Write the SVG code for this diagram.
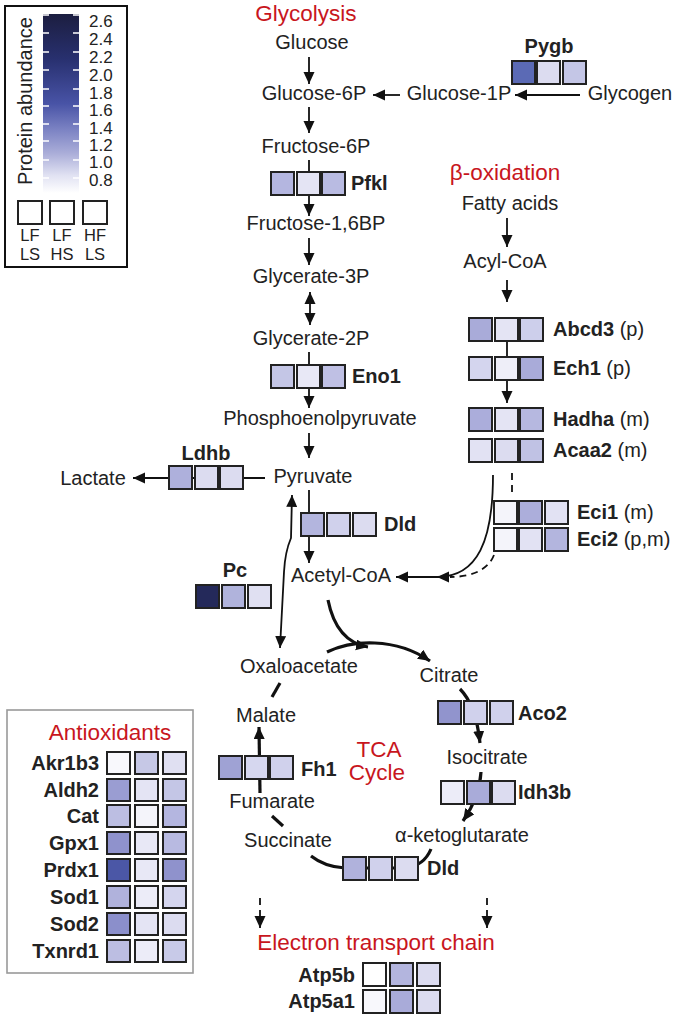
<svg xmlns="http://www.w3.org/2000/svg" width="676" height="1018" viewBox="0 0 676 1018">
<style>
text{font-family:"Liberation Sans",Arial,sans-serif;fill:#222}
.t{font-size:20px}
.b{font-size:20px;font-weight:bold}
.r{font-size:22.5px;fill:#c8161d}
.m{text-anchor:middle}
.e{text-anchor:end}
.n{font-size:17px}
.lg{font-size:16.5px}
.sq{stroke:#222;stroke-width:2}
.ln{fill:none;stroke:#111;stroke-width:1.8}
.tk{fill:none;stroke:#111;stroke-width:3.2}
.ds{stroke-dasharray:7 5}
</style>
<defs>
<marker id="ah" markerUnits="userSpaceOnUse" markerWidth="13" markerHeight="12" refX="12" refY="5.5" orient="auto"><path d="M0,0 L12,5.5 L0,11 z" fill="#111"/></marker>
<marker id="ahs" markerUnits="userSpaceOnUse" markerWidth="13" markerHeight="12" refX="0" refY="5.5" orient="auto"><path d="M12,0 L0,5.5 L12,11 z" fill="#111"/></marker>
<linearGradient id="grad" x1="0" y1="0" x2="0" y2="1">
<stop offset="0" stop-color="#1c1e40"/>
<stop offset="0.25" stop-color="#28306f"/>
<stop offset="0.5" stop-color="#4853a6"/>
<stop offset="0.65" stop-color="#7d84c4"/>
<stop offset="0.78" stop-color="#abaed9"/>
<stop offset="0.9" stop-color="#e0e1f2"/>
<stop offset="1" stop-color="#ffffff"/>
</linearGradient>
</defs>

<g id="legend">
<rect x="5" y="6" width="122" height="261" fill="#fff" stroke="#111" stroke-width="2"/>
<rect x="43" y="14" width="36" height="179" fill="url(#grad)"/>
<g stroke="#fff" stroke-width="1.5">
<path d="M43,15h6M73,15h6M43,33h6M73,33h6M43,52h6M73,52h6M43,70h6M73,70h6M43,89h6M73,89h6M43,106h6M73,106h6M43,124h6M73,124h6M43,141h6M73,141h6M43,160h6M73,160h6M43,178h6M73,178h6"/>
</g>
<text class="t m" transform="translate(32,101) rotate(-90)">Protein abundance</text>
<text class="n" x="89" y="27">2.6</text>
<text class="n" x="89" y="45">2.4</text>
<text class="n" x="89" y="63">2.2</text>
<text class="n" x="89" y="81">2.0</text>
<text class="n" x="89" y="99">1.8</text>
<text class="n" x="89" y="116">1.6</text>
<text class="n" x="89" y="134">1.4</text>
<text class="n" x="89" y="151">1.2</text>
<text class="n" x="89" y="168">1.0</text>
<text class="n" x="89" y="186">0.8</text>
<rect class="sq" x="18" y="201" width="24" height="23" fill="#fff"/>
<rect class="sq" x="50" y="201" width="24" height="23" fill="#fff"/>
<rect class="sq" x="83" y="201" width="24" height="23" fill="#fff"/>
<text class="lg m" x="30" y="241">LF</text>
<text class="lg m" x="30" y="260">LS</text>
<text class="lg m" x="62" y="241">LF</text>
<text class="lg m" x="62" y="260">HS</text>
<text class="lg m" x="95" y="241">HF</text>
<text class="lg m" x="95" y="260">LS</text>
</g>

<g id="connectors">
<path class="ln" d="M309,57 V84" marker-end="url(#ah)"/>
<path class="ln" d="M400,95 H373" marker-end="url(#ah)"/>
<path class="ln" d="M580,95 H515" marker-end="url(#ah)"/>
<path class="ln" d="M309,107 V133" marker-end="url(#ah)"/>
<path class="ln" d="M309,160 V216" marker-end="url(#ah)"/>
<path class="ln" d="M309,238 V265" marker-end="url(#ah)"/>
<path class="ln" d="M310,292 V325" marker-start="url(#ahs)" marker-end="url(#ah)"/>
<path class="ln" d="M309,352 V408" marker-end="url(#ah)"/>
<path class="ln" d="M309,433 V458" marker-end="url(#ah)"/>
<path class="ln" d="M265,478 H133" marker-end="url(#ah)"/>
<path class="ln" d="M309,490 V563" marker-end="url(#ah)"/>
<path class="ln" d="M292,495 L291,538 Q285,552 284,572 L280,648" marker-start="url(#ahs)" marker-end="url(#ah)"/>
<path class="ln" d="M507,218 V247" marker-end="url(#ah)"/>
<path class="ln" d="M507,280 V302" marker-end="url(#ah)"/>
<path class="ln" d="M507,342 V403" marker-end="url(#ah)"/>
<path class="ln" d="M493,475 C493,540 478,577 437,577" marker-end="url(#ah)"/>
<path class="ln" d="M440,577 H396" marker-end="url(#ah)"/>
<path class="ln ds" d="M512,473 V497"/>
<path class="ln ds" d="M494,555 C488,570 472,577 450,577"/>
<path class="tk" d="M327,652 C352,640 395,637 430,661" marker-end="url(#ah)"/>
<path class="tk" d="M328,600 C333,625 345,643 368,647" marker-end="url(#ah)"/>
<path class="tk" d="M460,689 Q476,705 480,743" marker-end="url(#ah)"/>
<path class="tk" d="M481,772 C480,790 472,808 463,821" marker-end="url(#ah)"/>
<path class="tk" d="M431,849 Q424,866 405,868 L345,868 Q325,867 311,856"/>
<path class="tk" d="M283,826 L272,816"/>
<path class="tk" d="M260,793 L259,727" marker-end="url(#ah)"/>
<path class="tk" d="M272,697 L280,683"/>
<path class="ln ds" d="M260,898 V928" marker-end="url(#ah)"/>
<path class="ln ds" d="M487,898 V928" marker-end="url(#ah)"/>
</g>

<g id="titles">
<text class="r m" x="306" y="21">Glycolysis</text>
<text class="r m" x="505" y="180">β-oxidation</text>
<text class="r m" x="379" y="757">TCA</text>
<text class="r m" x="377" y="780">Cycle</text>
<text class="r m" x="376" y="950">Electron transport chain</text>
</g>

<g id="metabolites">
<text class="t m" x="312" y="49">Glucose</text>
<text class="t m" x="314" y="100">Glucose-6P</text>
<text class="t m" x="459" y="100">Glucose-1P</text>
<text class="t m" x="630" y="100">Glycogen</text>
<text class="t m" x="316" y="153">Fructose-6P</text>
<text class="t m" x="316" y="230">Fructose-1,6BP</text>
<text class="t m" x="311" y="283">Glycerate-3P</text>
<text class="t m" x="311" y="345">Glycerate-2P</text>
<text class="t m" x="320" y="425">Phosphoenolpyruvate</text>
<text class="t m" x="313" y="483">Pyruvate</text>
<text class="t m" x="93" y="485">Lactate</text>
<text class="t m" x="341" y="582">Acetyl-CoA</text>
<text class="t m" x="510" y="210">Fatty acids</text>
<text class="t m" x="505" y="268">Acyl-CoA</text>
<text class="t m" x="299" y="673">Oxaloacetate</text>
<text class="t m" x="449" y="682">Citrate</text>
<text class="t m" x="487" y="764">Isocitrate</text>
<text class="t m" x="462" y="842">α-ketoglutarate</text>
<text class="t m" x="288" y="847">Succinate</text>
<text class="t m" x="272" y="808">Fumarate</text>
<text class="t m" x="266" y="722">Malate</text>
</g>

<g id="Pygb">
<text class="b m" x="549" y="53">Pygb</text>
<rect class="sq" x="512" y="61" width="23" height="23" fill="#5b6ab5"/>
<rect class="sq" x="537" y="61" width="23" height="23" fill="#dcdcf0"/>
<rect class="sq" x="563" y="61" width="23" height="23" fill="#c4c6e6"/>
</g>
<g id="Pfkl">
<rect class="sq" x="271" y="172" width="23" height="23" fill="#b4b6e0"/>
<rect class="sq" x="297" y="172" width="23" height="23" fill="#e4e4f4"/>
<rect class="sq" x="322" y="172" width="23" height="23" fill="#b9bbe2"/>
<text class="b" x="351" y="190">Pfkl</text>
</g>
<g id="Eno1">
<rect class="sq" x="271" y="365" width="23" height="23" fill="#c4c6e6"/>
<rect class="sq" x="297" y="365" width="23" height="23" fill="#e8e8f6"/>
<rect class="sq" x="322" y="365" width="23" height="23" fill="#bfc0e4"/>
<text class="b" x="352" y="383">Eno1</text>
</g>
<g id="Ldhb">
<text class="b m" x="206" y="460">Ldhb</text>
<rect class="sq" x="169" y="466" width="23" height="23" fill="#aeb0dc"/>
<rect class="sq" x="195" y="466" width="23" height="23" fill="#dcdcf0"/>
<rect class="sq" x="220" y="466" width="23" height="23" fill="#dcdcf0"/>
</g>
<g id="Dld1">
<rect class="sq" x="301" y="513" width="23" height="23" fill="#b3b5de"/>
<rect class="sq" x="327" y="513" width="23" height="23" fill="#d0d1ec"/>
<rect class="sq" x="353" y="513" width="23" height="23" fill="#dcdcf0"/>
<text class="b" x="384" y="531">Dld</text>
</g>
<g id="Pc">
<text class="b m" x="235" y="577">Pc</text>
<rect class="sq" x="196" y="585" width="23" height="23" fill="#24295a"/>
<rect class="sq" x="222" y="585" width="23" height="23" fill="#b0b3dc"/>
<rect class="sq" x="248" y="585" width="23" height="23" fill="#e0e0f2"/>
</g>
<g id="Abcd3">
<rect class="sq" x="469" y="318" width="23" height="23" fill="#a9abd9"/>
<rect class="sq" x="495" y="318" width="23" height="23" fill="#e4e4f4"/>
<rect class="sq" x="520" y="318" width="23" height="23" fill="#cdcfeb"/>
<text class="t" x="553" y="336"><tspan style="font-weight:bold">Abcd3</tspan> (p)</text>
</g>
<g id="Ech1">
<rect class="sq" x="469" y="357" width="23" height="23" fill="#d4d5ee"/>
<rect class="sq" x="495" y="357" width="23" height="23" fill="#eeeef8"/>
<rect class="sq" x="520" y="357" width="23" height="23" fill="#a9abd9"/>
<text class="t" x="553" y="375"><tspan style="font-weight:bold">Ech1</tspan> (p)</text>
</g>
<g id="Hadha">
<rect class="sq" x="469" y="408" width="23" height="23" fill="#abaddb"/>
<rect class="sq" x="495" y="408" width="23" height="23" fill="#e4e4f4"/>
<rect class="sq" x="520" y="408" width="23" height="23" fill="#b6b8e0"/>
<text class="t" x="553" y="426"><tspan style="font-weight:bold">Hadha</tspan> (m)</text>
</g>
<g id="Acaa2">
<rect class="sq" x="469" y="439" width="23" height="23" fill="#e2e2f3"/>
<rect class="sq" x="495" y="439" width="23" height="23" fill="#dcdcf0"/>
<rect class="sq" x="520" y="439" width="23" height="23" fill="#c0c2e4"/>
<text class="t" x="553" y="457"><tspan style="font-weight:bold">Acaa2</tspan> (m)</text>
</g>
<g id="Eci1">
<rect class="sq" x="494" y="501" width="23" height="23" fill="#f4f4fa"/>
<rect class="sq" x="519" y="501" width="23" height="23" fill="#acaedb"/>
<rect class="sq" x="545" y="501" width="23" height="23" fill="#e2e2f3"/>
<text class="t" x="577" y="519"><tspan style="font-weight:bold">Eci1</tspan> (m)</text>
</g>
<g id="Eci2">
<rect class="sq" x="494" y="528" width="23" height="23" fill="#f4f4fa"/>
<rect class="sq" x="519" y="528" width="23" height="23" fill="#e2e2f3"/>
<rect class="sq" x="545" y="528" width="23" height="23" fill="#b3b5de"/>
<text class="t" x="577" y="546"><tspan style="font-weight:bold">Eci2</tspan> (p,m)</text>
</g>
<g id="Aco2">
<rect class="sq" x="438" y="701" width="23" height="23" fill="#9194cd"/>
<rect class="sq" x="464" y="701" width="23" height="23" fill="#d0d1ec"/>
<rect class="sq" x="490" y="701" width="23" height="23" fill="#d0d1ec"/>
<text class="b" x="518" y="720">Aco2</text>
</g>
<g id="Idh3b">
<rect class="sq" x="441" y="781" width="23" height="23" fill="#ececf8"/>
<rect class="sq" x="467" y="781" width="23" height="23" fill="#a9abd9"/>
<rect class="sq" x="492" y="781" width="23" height="23" fill="#dcdcf0"/>
<text class="b" x="518" y="799">Idh3b</text>
</g>
<g id="Dld2">
<rect class="sq" x="343" y="857" width="23" height="23" fill="#b0b2dc"/>
<rect class="sq" x="369" y="857" width="23" height="23" fill="#d0d1ec"/>
<rect class="sq" x="395" y="857" width="23" height="23" fill="#dcdcf0"/>
<text class="b" x="427" y="875">Dld</text>
</g>
<g id="Fh1">
<rect class="sq" x="219" y="756" width="23" height="23" fill="#9fa2d4"/>
<rect class="sq" x="245" y="756" width="23" height="23" fill="#d6d7ef"/>
<rect class="sq" x="270" y="756" width="23" height="23" fill="#d0d1ec"/>
<text class="b" x="301" y="776">Fh1</text>
</g>
<g id="ETC">
<text class="b e" x="355" y="982">Atp5b</text>
<text class="b e" x="355" y="1008">Atp5a1</text>
<rect class="sq" x="363" y="963" width="23" height="23" fill="#ffffff"/>
<rect class="sq" x="390" y="963" width="23" height="23" fill="#b3b5de"/>
<rect class="sq" x="417" y="963" width="23" height="23" fill="#dcdcf0"/>
<rect class="sq" x="363" y="990" width="23" height="23" fill="#f8f8fc"/>
<rect class="sq" x="390" y="990" width="23" height="23" fill="#a9abd9"/>
<rect class="sq" x="417" y="990" width="23" height="23" fill="#dcdcf0"/>
</g>
<g id="antioxidants">
<rect x="7" y="710" width="186" height="263" fill="#fff" stroke="#999" stroke-width="1.6"/>
<text class="r m" x="110" y="740">Antioxidants</text>
<text class="b e" x="99" y="770">Akr1b3</text>
<text class="b e" x="99" y="797">Aldh2</text>
<text class="b e" x="99" y="823">Cat</text>
<text class="b e" x="99" y="850">Gpx1</text>
<text class="b e" x="99" y="877">Prdx1</text>
<text class="b e" x="99" y="904">Sod1</text>
<text class="b e" x="99" y="931">Sod2</text>
<text class="b e" x="99" y="958">Txnrd1</text>
<rect class="sq" x="107" y="752" width="23" height="22" fill="#f8f8fc"/>
<rect class="sq" x="135" y="752" width="23" height="22" fill="#c6c8e6"/>
<rect class="sq" x="163" y="752" width="23" height="22" fill="#e0e0f2"/>
<rect class="sq" x="107" y="779" width="23" height="22" fill="#9a9dd2"/>
<rect class="sq" x="135" y="779" width="23" height="22" fill="#e4e4f4"/>
<rect class="sq" x="163" y="779" width="23" height="22" fill="#c4c6e6"/>
<rect class="sq" x="107" y="805" width="23" height="22" fill="#bcbee2"/>
<rect class="sq" x="135" y="805" width="23" height="22" fill="#f4f4fa"/>
<rect class="sq" x="163" y="805" width="23" height="22" fill="#b4b6e0"/>
<rect class="sq" x="107" y="832" width="23" height="22" fill="#8f92cc"/>
<rect class="sq" x="135" y="832" width="23" height="22" fill="#e8e8f6"/>
<rect class="sq" x="163" y="832" width="23" height="22" fill="#b8bae1"/>
<rect class="sq" x="107" y="859" width="23" height="22" fill="#4b57a6"/>
<rect class="sq" x="135" y="859" width="23" height="22" fill="#e8e8f6"/>
<rect class="sq" x="163" y="859" width="23" height="22" fill="#8f92cc"/>
<rect class="sq" x="107" y="886" width="23" height="22" fill="#b0b2dc"/>
<rect class="sq" x="135" y="886" width="23" height="22" fill="#ececf8"/>
<rect class="sq" x="163" y="886" width="23" height="22" fill="#d4d5ee"/>
<rect class="sq" x="107" y="913" width="23" height="22" fill="#8b8fcb"/>
<rect class="sq" x="135" y="913" width="23" height="22" fill="#e4e4f4"/>
<rect class="sq" x="163" y="913" width="23" height="22" fill="#dcdcf0"/>
<rect class="sq" x="107" y="940" width="23" height="22" fill="#bcbee2"/>
<rect class="sq" x="135" y="940" width="23" height="22" fill="#ececf8"/>
<rect class="sq" x="163" y="940" width="23" height="22" fill="#c8cae8"/>
</g>
</svg>
